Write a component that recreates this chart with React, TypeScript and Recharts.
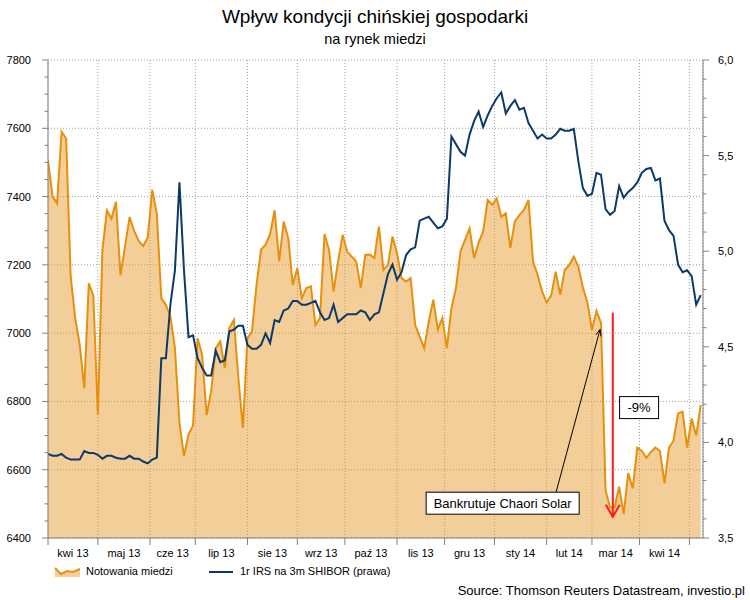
import React from 'react';
import {
  ComposedChart,
  Area,
  Line,
  XAxis,
  YAxis,
  CartesianGrid,
  ReferenceLine,
  ReferenceDot,
} from 'recharts';

// one point every two trading days, 1 Apr 2013 .. early May 2014
const monthTicks = [0, 11, 22.5, 32.5, 44, 55, 65.5, 77, 87.5, 98.5, 110, 120, 130.5, 141.5];
const monthLabels = [
  'kwi 13', 'maj 13', 'cze 13', 'lip 13', 'sie 13', 'wrz 13', 'paź 13',
  'lis 13', 'gru 13', 'sty 14', 'lut 14', 'mar 14', 'kwi 14',
];

// Notowania miedzi (USD/t)
const copper = [
  7507, 7400, 7380, 7590, 7570, 7166, 7044, 6966, 6839, 7146,
  7110, 6761, 7244, 7360, 7335, 7385, 7170, 7255, 7340, 7300,
  7270, 7255, 7280, 7420, 7350, 7102, 7083, 7049, 6956, 6737,
  6640, 6703, 6730, 6985, 6937, 6760, 6830, 6956, 6976, 6898,
  7015, 7039, 6868, 6722, 6985, 7005, 7141, 7245, 7259, 7290,
  7360, 7210, 7327, 7278, 7141, 7190, 7102, 7132, 7137, 7024,
  7044, 7290, 7244, 7122, 7210, 7288, 7239, 7224, 7210, 7132,
  7229, 7230, 7220, 7312, 7185, 7200, 7283, 7234, 7161, 7151,
  7161, 7024, 6990, 6956, 7034, 7098, 7010, 7044, 6956, 7073,
  7132, 7239, 7273, 7307, 7220, 7265, 7298, 7390, 7376, 7395,
  7341, 7351, 7250, 7327, 7346, 7361, 7390, 7210, 7171, 7122,
  7090, 7110, 7180, 7112, 7185, 7200, 7224, 7195, 7134, 7090,
  7010, 7065, 7030, 6540, 6490, 6490, 6550, 6470, 6590, 6545,
  6665, 6655, 6635, 6652, 6665, 6655, 6560, 6665, 6685, 6765,
  6770, 6665, 6750, 6700, 6790,
];

// 1r IRS na 3m SHIBOR (%)
const irs = [
  3.94, 3.93, 3.93, 3.94, 3.92, 3.91, 3.91, 3.91, 3.955, 3.945,
  3.945, 3.935, 3.915, 3.93, 3.93, 3.92, 3.915, 3.915, 3.93, 3.915,
  3.915, 3.9, 3.89, 3.91, 3.92, 4.44, 4.44, 4.72, 4.9, 5.36,
  4.9, 4.55, 4.56, 4.44, 4.39, 4.35, 4.35, 4.48, 4.42, 4.43,
  4.58, 4.59, 4.61, 4.61, 4.51, 4.49, 4.49, 4.51, 4.57, 4.52,
  4.64, 4.63, 4.69, 4.7, 4.74, 4.74, 4.72, 4.72, 4.73, 4.74,
  4.68, 4.64, 4.65, 4.72, 4.63, 4.65, 4.67, 4.67, 4.67, 4.69,
  4.68, 4.64, 4.67, 4.68, 4.78, 4.88, 4.93, 4.85, 4.89, 4.98,
  5.01, 5.02, 5.16, 5.17, 5.18, 5.15, 5.12, 5.13, 5.17, 5.6,
  5.56, 5.52, 5.5, 5.61, 5.68, 5.73, 5.65, 5.71, 5.76, 5.8,
  5.83, 5.72, 5.76, 5.79, 5.74, 5.75, 5.67, 5.63, 5.59, 5.61,
  5.59, 5.59, 5.61, 5.64, 5.63, 5.63, 5.64, 5.47, 5.33, 5.29,
  5.3, 5.41, 5.4, 5.22, 5.19, 5.21, 5.34, 5.28, 5.31, 5.33,
  5.36, 5.41, 5.43, 5.435, 5.37, 5.38, 5.16, 5.11, 5.08, 4.93,
  4.89, 4.9, 4.87, 4.72, 4.77,
];

const leftMajor = [6400, 6600, 6800, 7000, 7200, 7400, 7600, 7800];
const rightMajor = [3.5, 4.0, 4.5, 5.0, 5.5, 6.0];

const leftTicks = leftMajor.flatMap((v) => (v < 7800 ? [v, v + 50, v + 100, v + 150] : [v]));
const rightTicks = rightMajor.flatMap((v) =>
  v < 6 ? [0, 1, 2, 3, 4].map((k) => Math.round((v + k * 0.1) * 10) / 10) : [v]
);

const data = copper.map((c, i) => ({ i, copper: c, irs: irs[i] }));

const W = 750;
const H = 600;
const MARGIN = { top: 60, right: 7, bottom: 32, left: 8 };
const AXIS_W = 40;
const PLOT_W = W - MARGIN.left - MARGIN.right - 2 * AXIS_W;
const PLOT_H = H - MARGIN.top - MARGIN.bottom - 30;
const X_MAX = 144.5;
const PX = PLOT_W / X_MAX;

const gridY = leftMajor.map((v) => MARGIN.top + ((7800 - v) / 1400) * PLOT_H);

const AXIS = '#808080';
const ORANGE = '#E8900C';
const NAVY = '#0B3A6A';
const RED = '#FF1A1A';

const MonthTick = (props: any) => {
  const { x, y, payload } = props;
  const k = monthTicks.indexOf(payload.value);
  const label = monthLabels[k];
  const next = monthTicks[k + 1];
  return (
    <g>
      <line x1={x} y1={y} x2={x} y2={y + 7} stroke={AXIS} />
      {label && next !== undefined && (
        <text x={x + ((next - payload.value) / 2) * PX} y={y + 19} textAnchor="middle" fontSize={11} fill="#000">
          {label}
        </text>
      )}
    </g>
  );
};

const LeftTick = (props: any) => {
  const { x, y, payload } = props;
  const major = payload.value % 200 === 0;
  return (
    <g>
      <line x1={x - (major ? 6 : 3.5)} y1={y} x2={x} y2={y} stroke={AXIS} />
      {major && (
        <text x={x - 17} y={y + 4} textAnchor="end" fontSize={11} fill="#000">
          {payload.value}
        </text>
      )}
    </g>
  );
};

const RightTick = (props: any) => {
  const { x, y, payload } = props;
  const major = Math.round(payload.value * 10) % 5 === 0;
  return (
    <g>
      <line x1={x} y1={y} x2={x + (major ? 6 : 3.5)} y2={y} stroke={AXIS} />
      {major && (
        <text x={x + 15} y={y + 4} textAnchor="start" fontSize={11} fill="#000">
          {payload.value.toFixed(1).replace('.', ',')}
        </text>
      )}
    </g>
  );
};

const redArrow = (p: any) => {
  const { x1, y1, x2, y2 } = p;
  return (
    <g>
      <line x1={x1} y1={y1} x2={x2} y2={y2} stroke={RED} strokeWidth={2} />
      <polyline
        points={`${x2 - 7},${y2 - 12} ${x2},${y2} ${x2 + 7},${y2 - 12}`}
        fill="none"
        stroke={RED}
        strokeWidth={2}
      />
    </g>
  );
};

const blackArrow = (p: any) => {
  const { x1, y1, x2, y2 } = p;
  const a = Math.atan2(y2 - y1, x2 - x1);
  const len = 7;
  const s = 0.4;
  const pa = `${x2 - len * Math.cos(a - s)},${y2 - len * Math.sin(a - s)}`;
  const pb = `${x2 - len * Math.cos(a + s)},${y2 - len * Math.sin(a + s)}`;
  return (
    <g>
      <line x1={x1} y1={y1} x2={x2} y2={y2} stroke="#000" strokeWidth={1} />
      <polyline points={`${pa} ${x2},${y2} ${pb}`} fill="none" stroke="#000" strokeWidth={1} />
    </g>
  );
};

const labelBox = (text: string, w: number) => (p: any) => (
  <g>
    <rect x={p.cx - w / 2} y={p.cy - 11} width={w} height={22} fill="#fff" stroke="#000" />
    <text x={p.cx} y={p.cy + 4.5} textAnchor="middle" fontSize={13} fill="#000">
      {text}
    </text>
  </g>
);

export default function App() {
  return (
    <div
      style={{
        position: 'absolute',
        left: 0,
        top: 0,
        width: W,
        height: H,
        background: '#fff',
        fontFamily: '"Liberation Sans", Arial, sans-serif',
      }}
    >
      <ComposedChart width={W} height={H} data={data} margin={MARGIN}>
        <CartesianGrid
          yAxisId="left"
          stroke="#a0a0a0"
          strokeDasharray="1 2"
          horizontalPoints={gridY}
        />
        <XAxis
          dataKey="i"
          type="number"
          domain={[0, X_MAX]}
          ticks={monthTicks}
          interval={0}
          tick={(p: any) => <MonthTick {...p} />}
          tickSize={0}
          tickMargin={0}
          tickLine={false}
          axisLine={{ stroke: AXIS }}
          height={30}
          allowDataOverflow
        />
        <YAxis
          yAxisId="left"
          orientation="left"
          domain={[6400, 7800]}
          ticks={leftTicks}
          interval={0}
          tick={(p: any) => <LeftTick {...p} />}
          tickSize={0}
          tickMargin={0}
          tickLine={false}
          axisLine={{ stroke: AXIS }}
          width={AXIS_W}
          allowDataOverflow
        />
        <YAxis
          yAxisId="right"
          orientation="right"
          domain={[3.5, 6]}
          ticks={rightTicks}
          interval={0}
          tick={(p: any) => <RightTick {...p} />}
          tickSize={0}
          tickMargin={0}
          tickLine={false}
          axisLine={{ stroke: AXIS }}
          width={AXIS_W}
          allowDataOverflow
        />
        <Area
          yAxisId="left"
          type="linear"
          dataKey="copper"
          stroke={ORANGE}
          strokeWidth={2}
          fill="#E4921C"
          fillOpacity={0.45}
          dot={false}
          activeDot={false}
          isAnimationActive={false}
        />
        <Line
          yAxisId="right"
          type="linear"
          dataKey="irs"
          stroke={NAVY}
          strokeWidth={2}
          dot={false}
          activeDot={false}
          isAnimationActive={false}
        />
        <ReferenceLine
          yAxisId="left"
          segment={[
            { x: 124.6, y: 7060 },
            { x: 124.6, y: 6462 },
          ]}
          shape={redArrow}
        />
        <ReferenceLine
          yAxisId="left"
          segment={[
            { x: 112.1, y: 6535 },
            { x: 121.8, y: 7011 },
          ]}
          shape={blackArrow}
        />
        <ReferenceDot yAxisId="left" x={100.3} y={6502} shape={labelBox('Bankrutuje Chaori Solar', 153)} />
        <ReferenceDot yAxisId="left" x={130.4} y={6782} shape={labelBox('-9%', 39)} />
      </ComposedChart>

      <svg
        width={W}
        height={H}
        style={{ position: 'absolute', left: 0, top: 0, pointerEvents: 'none' }}
      >
        <text x={375} y={23} textAnchor="middle" fontSize={19} fill="#000">
          Wpływ kondycji chińskiej gospodarki
        </text>
        <text x={375} y={44} textAnchor="middle" fontSize={14.5} fill="#000">
          na rynek miedzi
        </text>

        <polygon points="55,568 61,574 67,571 73,572 80,569 80,577 55,577" fill="#E4921C" fillOpacity={0.45} />
        <polyline points="55,568 61,574 67,571 73,572 80,569" fill="none" stroke={ORANGE} strokeWidth={2} />
        <text x={86} y={575} fontSize={11} fill="#000">
          Notowania miedzi
        </text>
        <line x1={209} y1={572} x2={233} y2={572} stroke={NAVY} strokeWidth={2} />
        <text x={240} y={575} fontSize={11} fill="#000">
          1r IRS na 3m SHIBOR (prawa)
        </text>

        <text x={745} y={595} textAnchor="end" fontSize={13} fill="#000">
          Source: Thomson Reuters Datastream, investio.pl
        </text>
      </svg>
    </div>
  );
}
